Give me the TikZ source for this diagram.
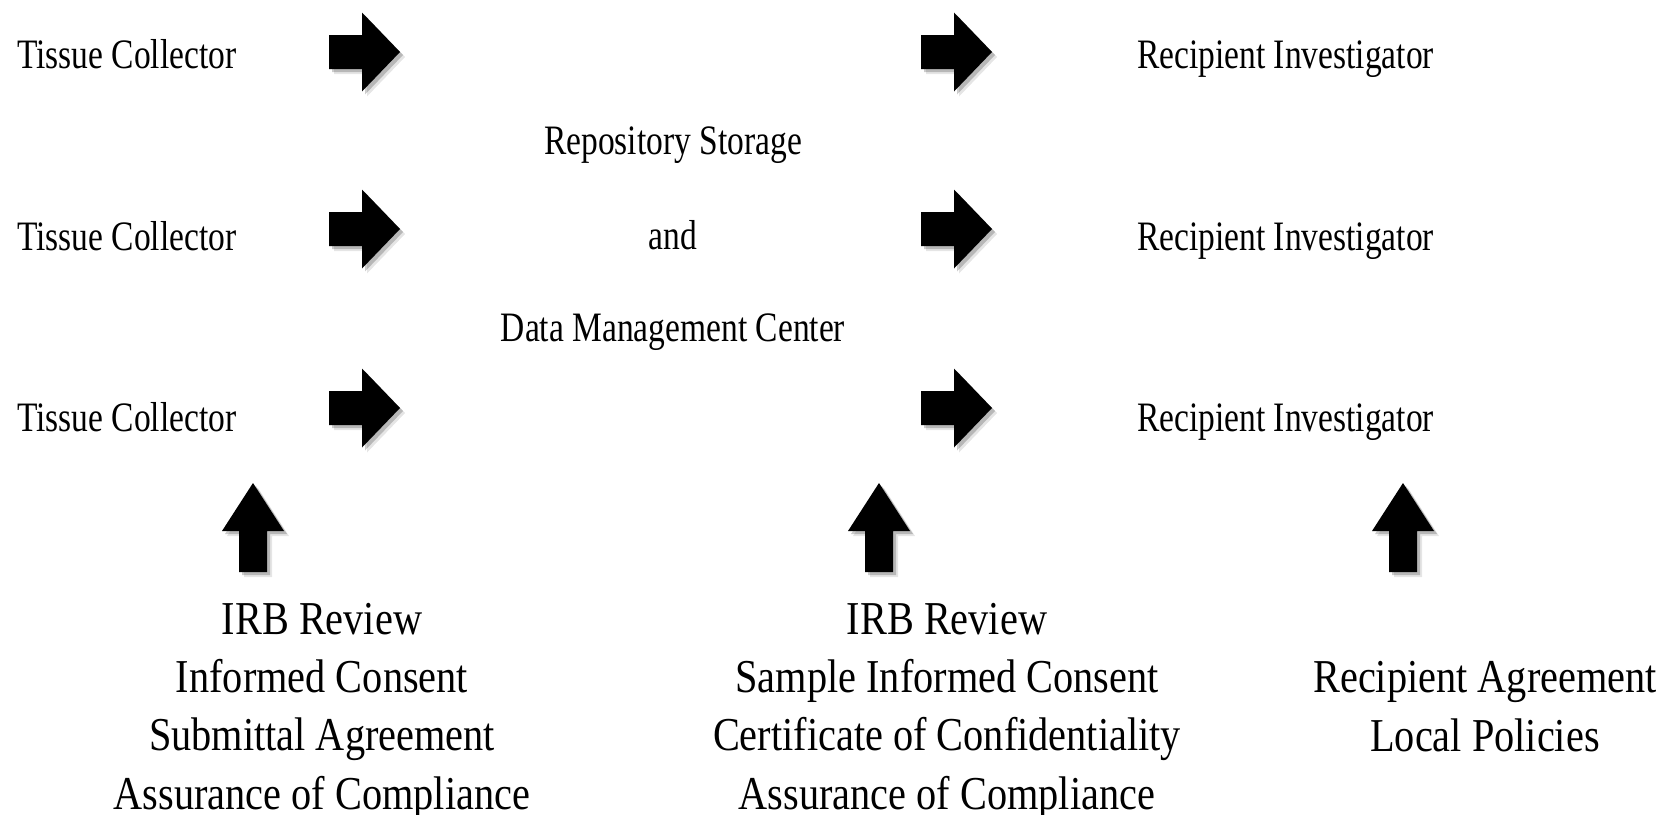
\documentclass[tikz,border=0pt]{standalone}
\usepackage{fontspec}
\setmainfont{Liberation Serif}
\begin{document}
\begin{tikzpicture}[x=1pt,y=-1pt,
  arrowfill/.style={fill=black,
    preaction={fill=black, opacity=0.10, transform canvas={shift={(5,5)}}},
    preaction={fill=black, opacity=0.20, transform canvas={shift={(3,3)}}}},
  rarr/.pic={\path[arrowfill] (0,-17) -- (33,-17) -- (33,-39.5) -- (71,0) -- (33,39.5) -- (33,17) -- (0,17) -- cycle;},
  uarr/.pic={\path[arrowfill] (0,0) -- (31,48) -- (14,48) -- (14,89) -- (-14,89) -- (-14,48) -- (-31,48) -- cycle;},
  smalltxt/.style={font=\fontsize{33.5}{40}\selectfont, yscale=1.25, transform shape, inner sep=0pt},
  bigtxt/.style={font=\fontsize{40.3}{49.6}\selectfont, yscale=1.17, transform shape, inner sep=0pt, align=center}]
\useasboundingbox (0,0) rectangle (1660,814);
\fill[white] (0,0) rectangle (1660,814);

% left column
\node[smalltxt, anchor=base west] (tc1) at (17,68) {Tissue Collector};
\node[smalltxt, anchor=base west] (tc2) at (17,250) {Tissue Collector};
\node[smalltxt, anchor=base west] (tc3) at (17,431) {Tissue Collector};

% middle column
\node[smalltxt, anchor=base] (rep) at (673,154) {Repository Storage};
\node[smalltxt, anchor=base] (and) at (673,249) {and};
\node[smalltxt, anchor=base] (dmc) at (673,341) {Data Management Center};

% right column
\node[smalltxt, anchor=base west] (ri1) at (1137,68) {Recipient Investigator};
\node[smalltxt, anchor=base west] (ri2) at (1137,250) {Recipient Investigator};
\node[smalltxt, anchor=base west] (ri3) at (1137,431) {Recipient Investigator};

% right arrows
\pic at (329,52) {rarr};
\pic at (329,229) {rarr};
\pic at (329,408) {rarr};
\pic at (921,52) {rarr};
\pic at (921,229) {rarr};
\pic at (921,408) {rarr};

% up arrows
\pic at (253,483) {uarr};
\pic at (879,483) {uarr};
\pic at (1403,483) {uarr};

% bottom texts (base anchor = baseline of last line)
\node[bigtxt, anchor=base] (bl) at (322,809) {IRB Review\\Informed Consent\\Submittal Agreement\\Assurance of Compliance};
\node[bigtxt, anchor=base] (bm) at (947,809) {IRB Review\\Sample Informed Consent\\Certificate of Confidentiality\\Assurance of Compliance};
\node[bigtxt, anchor=base] (br) at (1485,751) {Recipient Agreement\\Local Policies};
\end{tikzpicture}
\end{document}
